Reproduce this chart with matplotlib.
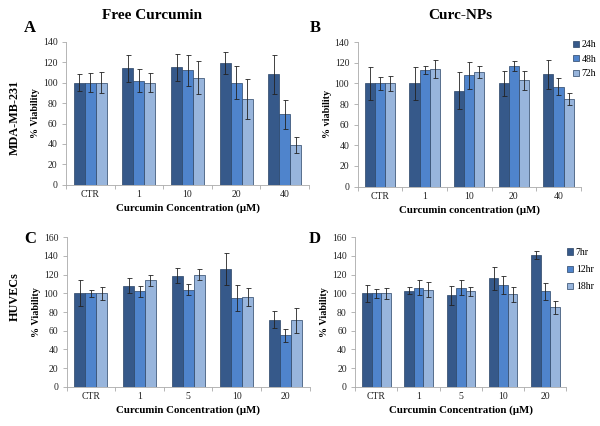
import matplotlib
matplotlib.use("Agg")
import matplotlib.pyplot as plt
import numpy as np

plt.rcParams['font.family'] = ['Liberation Serif', 'DejaVu Serif']
plt.rcParams['mathtext.fontset'] = 'stix'

# ---------------- data ----------------
cats_ab = ["CTR", "1", "10", "20", "40"]
cats_cd = ["CTR", "1", "5", "10", "20"]

series_ab = ["24h", "48h", "72h"]
series_cd = ["7hr", "12hr", "18hr"]

# Panel A: Free Curcumin, MDA-MB-231
a_24 = [100, 114, 115, 119, 108]
a_48 = [100, 102, 112, 100, 69]
a_72 = [100, 100, 105, 84, 39]
a_24_err = [8, 13, 13, 11, 19]
a_48_err = [9, 11, 15, 16, 14]
a_72_err = [10, 9, 16, 20, 8]

# Panel B: Curc-NPs, MDA-MB-231
b_24 = [100, 100, 93, 100, 109]
b_48 = [100, 113, 108, 117, 97]
b_72 = [100, 114, 111, 103, 85]
b_24_err = [16, 16, 18, 12, 14]
b_48_err = [6, 4, 13, 5, 8]
b_72_err = [7, 9, 6, 9, 6]

# Panel C: Free Curcumin, HUVECs
c_7 = [100, 108, 119, 126, 72]
c_12 = [100, 102, 104, 95, 55]
c_18 = [100, 114, 120, 96, 71]
c_7_err = [14, 8, 8, 17, 9]
c_12_err = [4, 6, 6, 14, 7]
c_18_err = [7, 6, 6, 10, 13]

# Panel D: Curc-NPs, HUVECs
d_7 = [100, 103, 98, 116, 141]
d_12 = [100, 106, 106, 109, 102]
d_18 = [100, 104, 102, 99, 85]
d_7_err = [9, 4, 10, 12, 4]
d_12_err = [5, 8, 8, 10, 9]
d_18_err = [6, 8, 5, 8, 7]

colors = ["#36598a", "#4f84cc", "#98b5dc"]
edge = "#2a4466"

fig = plt.figure(figsize=(6.0, 4.26), dpi=100)


def panel(rect, cats, vals, errs, ymax, ystep, xlabel, ylabel, xlim_right=4.5,
          labels=None, leg_pos=None, leg_space=0.9):
    ax = fig.add_axes(rect)
    x = np.arange(len(cats))
    w = 0.225
    handles = []
    for i, (v, e) in enumerate(zip(vals, errs)):
        b = ax.bar(x + (i - 1) * w, v, width=w, color=colors[i], edgecolor=edge,
                   linewidth=0.5, yerr=e, capsize=1.8,
                   error_kw=dict(ecolor="#222222", elinewidth=0.6, capthick=0.6),
                   label=labels[i] if labels else None, zorder=2)
        handles.append(b)
    ax.set_xlim(-0.5, xlim_right)
    ax.set_ylim(0, ymax)
    ax.set_yticks(np.arange(0, ymax + 1, ystep))
    ax.set_xticks(x)
    ax.set_xticklabels(cats)
    ax.set_xticks(np.arange(-0.5, len(cats), 1.0), minor=True)
    ax.tick_params(axis='x', which='major', length=0, labelsize=7, pad=4,
                   colors="#222222")
    ax.tick_params(axis='x', which='minor', length=3, width=0.5, color="#999999")
    ax.tick_params(axis='y', length=3, width=0.5, labelsize=7, pad=3,
                   colors="#999999", labelcolor="#222222")
    for s in ["top", "right"]:
        ax.spines[s].set_visible(False)
    for s in ["left", "bottom"]:
        ax.spines[s].set_color("#aaaaaa")
        ax.spines[s].set_linewidth(0.6)
    ax.set_xlabel(xlabel, fontsize=7.8, fontweight='bold', labelpad=3)
    ax.set_ylabel(ylabel, fontsize=7.3, fontweight='bold', labelpad=2)
    if labels:
        leg = ax.legend(handles=handles, loc='upper left',
                        bbox_to_anchor=leg_pos, bbox_transform=fig.transFigure,
                        frameon=False, fontsize=7, handlelength=0.6,
                        handleheight=0.6, handletextpad=0.3,
                        labelspacing=leg_space, borderaxespad=0, borderpad=0)
        for h in leg.legend_handles:
            h.set_edgecolor(edge)
    return ax


axA = panel([0.110, 0.566, 0.405, 0.336], cats_ab, [a_24, a_48, a_72],
            [a_24_err, a_48_err, a_72_err], 140, 20,
            "Curcumin Concentration (μM)", "% Viability")
axB = panel([0.596, 0.562, 0.372, 0.339], cats_ab, [b_24, b_48, b_72],
            [b_24_err, b_48_err, b_72_err], 140, 20,
            "Curcumin concentration (μM)", "% viability", xlim_right=4.42,
            labels=series_ab, leg_pos=(0.955, 0.905), leg_space=0.55)
axC = panel([0.111, 0.092, 0.405, 0.351], cats_cd, [c_7, c_12, c_18],
            [c_7_err, c_12_err, c_18_err], 160, 20,
            "Curcumin Concentration (μM)", "% Viability")
axD = panel([0.592, 0.092, 0.352, 0.351], cats_cd, [d_7, d_12, d_18],
            [d_7_err, d_12_err, d_18_err], 160, 20,
            "Curcumin Concentration (μM)", "% Viability",
            labels=series_cd, leg_pos=(0.945, 0.418), leg_space=0.85)

fig.text(0.253, 0.963, "Free Curcumin", fontsize=11, fontweight='bold',
         ha='center', va='center')
fig.text(0.768, 0.963, "Curc-NPs", fontsize=11, fontweight='bold',
         ha='center', va='center')
fig.text(0.05, 0.935, "A", fontsize=12, fontweight='bold', ha='center', va='center')
fig.text(0.525, 0.935, "B", fontsize=12, fontweight='bold', ha='center', va='center')
fig.text(0.05, 0.44, "C", fontsize=12, fontweight='bold', ha='center', va='center')
fig.text(0.525, 0.44, "D", fontsize=12, fontweight='bold', ha='center', va='center')
fig.text(0.025, 0.724, "MDA-MB-231", fontsize=8.7, fontweight='bold',
         rotation=90, ha='center', va='center')
fig.text(0.025, 0.303, "HUVECs", fontsize=8.7, fontweight='bold',
         rotation=90, ha='center', va='center')

fig.savefig("out.png", dpi=100, facecolor='white')
